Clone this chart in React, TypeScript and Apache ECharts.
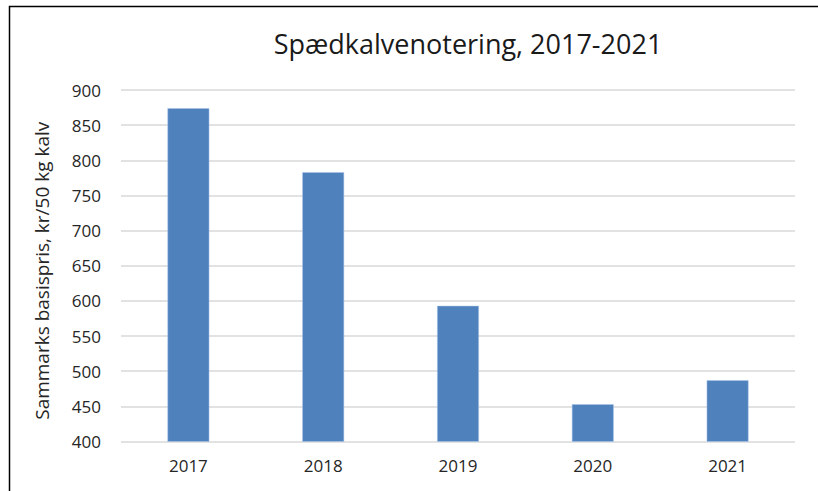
import React, { useEffect, useRef } from "react";
import * as echarts from "echarts";

const categories = ["2017", "2018", "2019", "2020", "2021"];
const values = [874, 783, 593, 453, 487];
const yTicks = [400, 450, 500, 550, 600, 650, 700, 750, 800, 850, 900];
const titleText = "Spædkalvenotering, 2017-2021";
const yAxisTitle = "Sammarks basispris, kr/50 kg kalv";

export default function App() {
  const ref = useRef<HTMLDivElement>(null);
  useEffect(() => {
    if (!ref.current) return;
    const chart = echarts.init(ref.current, null, { renderer: "svg" });
    const font = "'Open Sans', 'Noto Sans', sans-serif";
    chart.setOption({
      animation: false,
      backgroundColor: "#ffffff",
      title: {
        text: titleText,
        left: 463,
        top: 25,
        textAlign: "center",
        textStyle: { fontFamily: font, fontSize: 27, fontWeight: "normal", color: "#1a1a1a" },
      },
      graphic: [
        {
          type: "polyline",
          shape: { points: [[9.5, 495], [9.5, 6.5], [830, 6.5]] },
          style: { stroke: "#000000", lineWidth: 1.5, fill: "none" },
        },
      ],
      grid: { left: 121, right: 23, top: 90, bottom: 49.5 },
      xAxis: {
        type: "category",
        data: categories,
        axisLine: { show: false },
        axisTick: { show: false },
        axisLabel: { fontFamily: font, fontSize: 17, color: "#262626", margin: 15 },
      },
      yAxis: {
        type: "value",
        min: yTicks[0],
        max: yTicks[yTicks.length - 1],
        interval: 50,
        name: yAxisTitle,
        nameLocation: "middle",
        nameGap: 70,
        nameRotate: 90,
        nameTextStyle: { fontFamily: font, fontSize: 19, color: "#262626", padding: [0, 10, 0, 0] },
        axisLine: { show: false },
        axisTick: { show: false },
        axisLabel: { fontFamily: font, fontSize: 17, color: "#262626", margin: 20 },
        splitLine: { lineStyle: { color: "#d9d9d9", width: 1.5 } },
      },
      series: [
        {
          type: "bar",
          data: values,
          barWidth: "31%",
          itemStyle: { color: "#4f81bd", borderColor: "#a9c4e8", borderWidth: 0.5 },
        },
      ],
    });
    return () => chart.dispose();
  }, []);
  return (
    <div
      ref={ref}
      style={{ position: "absolute", left: 0, top: 0, width: 818, height: 491 }}
    />
  );
}
